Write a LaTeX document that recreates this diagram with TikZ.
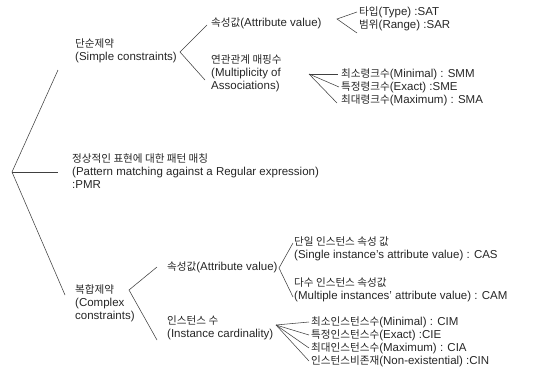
\documentclass[tikz,border=0pt]{standalone}
\usepackage{fontspec}
\setmainfont{Liberation Sans}
\newfontfamily\krfont{Noto Sans CJK KR}[Scale=0.92]
\newcommand\ko[1]{{\krfont #1}}
\begin{document}
\begin{tikzpicture}[x=1pt,y=-1pt,
  lbl/.style={anchor=west, inner sep=0pt, align=left,
              font=\fontsize{11.5}{13}\selectfont, text=black!85},
  link/.style={draw=black!75, line width=0.55pt}]
\useasboundingbox (0,0) rectangle (533,372);

% ---- labels ----
\node[lbl] (simple)  at (75,50.5) {\ko{단순제약}\\(Simple constraints)};
\node[lbl] (sattr)   at (211,23)  {\ko{속성값}(Attribute value)};
\node[lbl] (sat)     at (359,12)  {\ko{타입}(Type) :SAT};
\node[lbl] (sar)     at (359,25)  {\ko{범위}(Range) :SAR};
\node[lbl] (mult)    at (211,73)  {\ko{연관관계 매핑수}\\(Multiplicity of\\Associations)};
\node[lbl] (smm)     at (341,74)  {\ko{최소령크수}(Minimal) : SMM};
\node[lbl] (sme)     at (341,87)  {\ko{특정령크수}(Exact) :SME};
\node[lbl] (sma)     at (341,100) {\ko{최대령크수}(Maximum) : SMA};

\node[lbl] (pmr)     at (72,171)  {\ko{정상적인 표현에 대한 패턴 매칭}\\(Pattern matching against a Regular expression)\\:PMR};

\node[lbl] (complex) at (75,303)  {\ko{복합제약}\\(Complex\\constraints)};
\node[lbl] (cattr)   at (167,267) {\ko{속성값}(Attribute value)};
\node[lbl] (cas)     at (294,248.5) {\ko{단일 인스턴스 속성 값}\\(Single instance's attribute value) : CAS};
\node[lbl] (cam)     at (294,289.5) {\ko{다수 인스턴스 속성값}\\(Multiple instances' attribute value) : CAM};
\node[lbl] (card)    at (167,327.5) {\ko{인스턴스 수}\\(Instance cardinality)};
\node[lbl] (cim)     at (311,322) {\ko{최소인스턴스수}(Minimal) : CIM};
\node[lbl] (cie)     at (311,335) {\ko{특정인스턴스수}(Exact) :CIE};
\node[lbl] (cia)     at (311,348) {\ko{최대인스턴스수}(Maximum) : CIA};
\node[lbl] (cin)     at (311,361) {\ko{인스턴스비존재}(Non-existential) :CIN};

% ---- bracket vertices and free ends ----
\coordinate (v0) at (12,172);
\coordinate (e0a) at (58,70);
\coordinate (e0b) at (58,172);
\coordinate (e0c) at (65,295);
\coordinate (v1) at (180,52);
\coordinate (e1b) at (205,80);
\coordinate (v2) at (337,19);
\coordinate (v3) at (309,74);
\coordinate (e3c) at (337,103);
\coordinate (v4) at (129,290);
\coordinate (e4b) at (157,340);
\coordinate (v5) at (279,268);
\coordinate (e5a) at (293,243);
\coordinate (e5b) at (293,297);
\coordinate (v6) at (276,325);

% ---- connectors ----
\draw[link] (e0a) -- (v0) -- (e0c);
\draw[link] (v0) -- (e0b);
\draw[link] ([shift={(-4,2)}]sattr.west) -- (v1) -- (e1b);
\draw[link] ([xshift=-2pt]sat.west) -- (v2) -- ([shift={(-2,8)}]sar.west);
\draw[link] (v3) -- ([xshift=-3pt]smm.west);
\draw[link] (v3) -- ([xshift=-2pt]sme.west);
\draw[link] (v3) -- (e3c);
\draw[link] ([xshift=-10pt]cattr.west) -- (v4) -- (e4b);
\draw[link] (e5a) -- (v5) -- (e5b);
\foreach \n in {cim,cie,cia,cin}
  \draw[link] (v6) -- ([xshift=-2pt]\n.west);
\end{tikzpicture}
\end{document}
